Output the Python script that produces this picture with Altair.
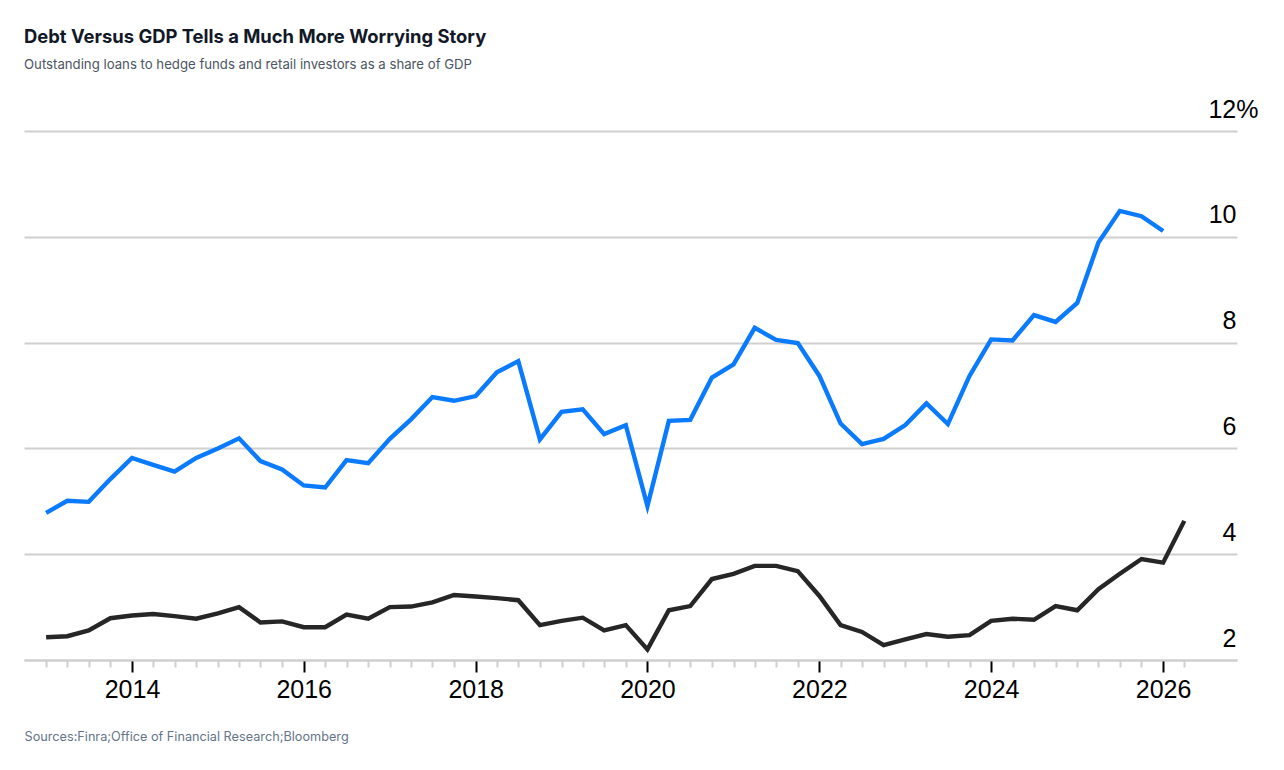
import altair as alt
import pandas as pd

quarters = [f"{y}-{m:02d}-01" for y in range(2013, 2027) for m in (1, 4, 7, 10)][:54]

debt_gdp = [4.78, 5.01, 4.99, 5.42, 5.82, 5.69, 5.56, 5.82, 6.00, 6.19,
            5.76, 5.60, 5.30, 5.26, 5.78, 5.72, 6.18, 6.55, 6.97, 6.90,
            6.99, 7.44, 7.65, 6.17, 6.69, 6.74, 6.27, 6.44, 4.91, 6.52,
            6.54, 7.34, 7.59, 8.28, 8.05, 7.99, 7.37, 6.47, 6.08, 6.18,
            6.44, 6.85, 6.46, 7.37, 8.06, 8.04, 8.52, 8.39, 8.75, 9.89,
            10.49, 10.39, 10.11]

other_series = [2.43, 2.45, 2.56, 2.79, 2.84, 2.87, 2.83, 2.78, 2.88, 3.00,
                2.71, 2.73, 2.62, 2.62, 2.86, 2.78, 3.00, 3.01, 3.09, 3.23,
                3.20, 3.17, 3.13, 2.66, 2.74, 2.80, 2.56, 2.66, 2.20, 2.94,
                3.02, 3.53, 3.63, 3.78, 3.78, 3.68, 3.21, 2.66, 2.53, 2.28,
                2.39, 2.49, 2.44, 2.47, 2.74, 2.78, 2.76, 3.02, 2.94, 3.34,
                3.63, 3.91, 3.84, 4.63]

y_ticks = [2, 4, 6, 8, 10, 12]

rows = []
for d, v in zip(quarters, debt_gdp):
    rows.append({"date": d, "value": v, "series": "blue"})
for d, v in zip(quarters, other_series):
    rows.append({"date": d, "value": v, "series": "black"})
df = pd.DataFrame(rows)

tick_values = [alt.DateTime(year=int(q[:4]), month=int(q[5:7]), date=1) for q in quarters]

major = "month(datum.value) == 0 && year(datum.value) % 2 == 0"

x_axis = alt.Axis(
    title="Sources:Finra;Office of Financial Research;Bloomberg",
    titleFont="Inter", titleFontSize=12.7, titleFontWeight="normal", titleColor="#64748b",
    titleAnchor="start", titleAlign="left", titleX=0, titleY=80, titleBaseline="alphabetic",
    values=tick_values,
    labelExpr=f"({major}) ? timeFormat(datum.value, '%Y') : ''",
    labelFont="Liberation Sans", labelFontSize=25, labelColor="#000000",
    labelPadding=5, labelOverlap=False, labelFlush=False,
    grid=False, domainColor="#cfcfcf", domainWidth=2,
    tickColor={"condition": {"test": major, "value": "#000000"}, "value": "#cfcfcf"},
    tickSize={"condition": {"test": major, "value": 12}, "value": 7},
    tickWidth=2,
)

y_axis = alt.Axis(
    orient="right", title=None, values=y_ticks,
    labelExpr="datum.value == 12 ? '12%' : datum.label",
    labelFont="Liberation Sans", labelFontSize=25, labelColor="#000000",
    labelAlign="right", labelBaseline="alphabetic", labelOffset=-14,
    labelPadding={"condition": {"test": "datum.value == 12", "value": 21}, "value": -1},
    ticks=False, tickSize=0, domain=False,
    grid=True, gridColor="#cfcfcf", gridWidth=2,
)

chart = alt.Chart(df).mark_line(strokeWidth=4.4, strokeJoin="miter", strokeCap="butt").encode(
    x=alt.X("date:T", axis=x_axis,
            scale=alt.Scale(domain=["2012-09-29", "2026-11-11"], nice=False)),
    y=alt.Y("value:Q", axis=y_axis, scale=alt.Scale(domain=[2, 12], nice=False, zero=False)),
    color=alt.Color("series:N", legend=None,
                    scale=alt.Scale(domain=["blue", "black"], range=["#0a7aff", "#262626"])),
    detail="series:N",
).properties(
    width=1213, height=529,
    title=alt.Title(
        "Debt Versus GDP Tells a Much More Worrying Story",
        subtitle="Outstanding loans to hedge funds and retail investors as a share of GDP",
        anchor="start", font="Inter", fontSize=18.4, fontWeight="bold", color="#111827",
        subtitleFont="Inter", subtitleFontSize=13.2, subtitleColor="#4b5563",
        subtitlePadding=12, offset=26,
    ),
    padding={"left": 16, "top": 20, "right": 10, "bottom": 10},
).configure(background="#ffffff").configure_view(strokeWidth=0, stroke="transparent")

chart.save("out.html", embed_options={"renderer": "svg", "actions": False})
